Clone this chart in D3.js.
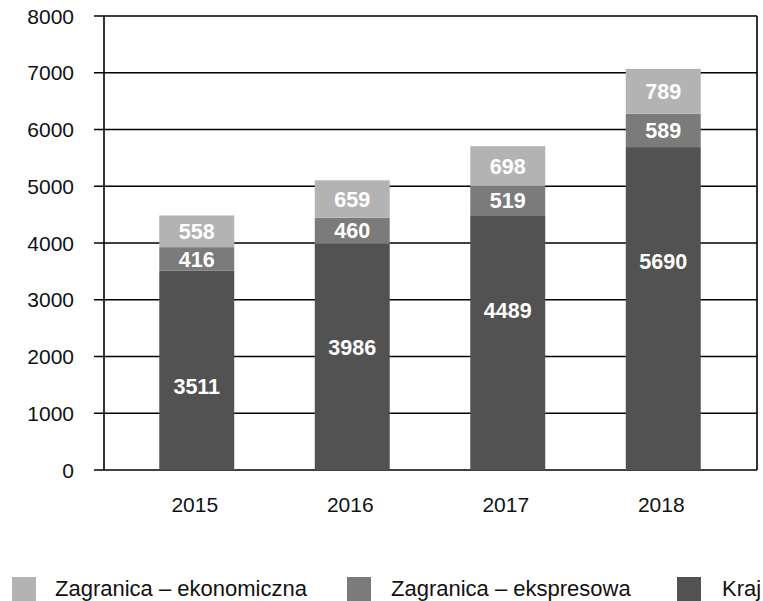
<!DOCTYPE html>
<html>
<head>
<meta charset="utf-8">
<script src="https://cdn.jsdelivr.net/npm/d3@7"></script>
<style>
body { margin: 0; background: #fff; }
svg text { font-family: "Liberation Sans", Arial, sans-serif; }
</style>
</head>
<body>
<script>
(function(){

//data
var years = ["2015", "2016", "2017", "2018"];
var kraj = [3511, 3986, 4489, 5690];
var ekspresowa = [416, 460, 519, 589];
var ekonomiczna = [558, 659, 698, 789];
var yTicks = [0, 1000, 2000, 3000, 4000, 5000, 6000, 7000, 8000];
//the Kraj labels are not centred in the original, value where each one sits
var krajLabelAt = [1477, 2164, 2814, 3683];

var seriesNames = ["Kraj", "Zagranica – ekspresowa", "Zagranica – ekonomiczna"];
var seriesColors = ["#525252", "#7b7b7b", "#b3b3b3"];

window.onload = drawChart();

function drawChart(){
    var width = 763,
        height = 601;

    var svg = d3.select("body")
        .append("svg")
        .attr("width", width)
        .attr("height", height);

    var left = 104, right = 757, top = 16, bottom = 470;

    var y = d3.scaleLinear()
        .domain([0, 8000])
        .range([bottom, top]);

    var x = d3.scaleBand()
        .domain(years)
        .range([119, 741])
        .paddingInner(0.518)
        .paddingOuter(0.259);

    //gridlines
    svg.selectAll(".grid")
        .data(yTicks)
        .enter()
        .append("line")
        .attr("class", "grid")
        .attr("x1", left - 10)
        .attr("x2", right)
        .attr("y1", function(d){ return y(d); })
        .attr("y2", function(d){ return y(d); })
        .attr("stroke", "#000")
        .attr("stroke-width", 1.6);

    //frame sides
    svg.append("line")
        .attr("x1", left).attr("x2", left)
        .attr("y1", top).attr("y2", bottom)
        .attr("stroke", "#000").attr("stroke-width", 1.6);
    svg.append("line")
        .attr("x1", right).attr("x2", right)
        .attr("y1", top).attr("y2", bottom)
        .attr("stroke", "#000").attr("stroke-width", 1.6);

    //y tick labels
    svg.selectAll(".ylab")
        .data(yTicks)
        .enter()
        .append("text")
        .attr("class", "ylab")
        .attr("x", 74)
        .attr("y", function(d){ return y(d); })
        .attr("dy", "0.36em")
        .attr("text-anchor", "end")
        .attr("font-size", 21)
        .attr("fill", "#111")
        .text(function(d){ return d; });

    //stack the series
    var rows = years.map(function(yr, i){
        return { year: yr, idx: i, s0: kraj[i], s1: ekspresowa[i], s2: ekonomiczna[i] };
    });
    var stack = d3.stack().keys(["s0", "s1", "s2"]);
    var layers = stack(rows);

    var groups = svg.selectAll(".layer")
        .data(layers)
        .enter()
        .append("g")
        .attr("class", "layer")
        .attr("fill", function(d, i){ return seriesColors[i]; });

    groups.selectAll("rect")
        .data(function(d){ return d; })
        .enter()
        .append("rect")
        .attr("x", function(d){ return x(d.data.year); })
        .attr("width", x.bandwidth())
        .attr("y", function(d){ return y(d[1]); })
        .attr("height", function(d){ return y(d[0]) - y(d[1]); });

    //value labels
    groups.selectAll(".val")
        .data(function(d){ return d; })
        .enter()
        .append("text")
        .attr("class", "val")
        .attr("x", function(d){ return x(d.data.year) + x.bandwidth() / 2; })
        .attr("y", function(d){
            if (d[0] === 0) return y(krajLabelAt[d.data.idx]);
            return (y(d[0]) + y(d[1])) / 2;
        })
        .attr("dy", "0.36em")
        .attr("text-anchor", "middle")
        .attr("font-size", 21.5)
        .attr("font-weight", "bold")
        .attr("fill", "#fff")
        .text(function(d){ return d[1] - d[0]; });

    //x labels
    svg.selectAll(".xlab")
        .data(years)
        .enter()
        .append("text")
        .attr("class", "xlab")
        .attr("x", function(d){ return x(d) + x.bandwidth() / 2 - 2; })
        .attr("y", 512)
        .attr("text-anchor", "middle")
        .attr("font-size", 21)
        .attr("fill", "#111")
        .text(function(d){ return d; });

    //legend
    var legendItems = [
        { name: seriesNames[2], color: seriesColors[2], sx: 12, tx: 55 },
        { name: seriesNames[1], color: seriesColors[1], sx: 347, tx: 391 },
        { name: seriesNames[0], color: seriesColors[0], sx: 677, tx: 722 }
    ];
    var legend = svg.selectAll(".legend")
        .data(legendItems)
        .enter()
        .append("g")
        .attr("class", "legend");
    legend.append("rect")
        .attr("x", function(d){ return d.sx; })
        .attr("y", 577)
        .attr("width", 24)
        .attr("height", 24)
        .attr("fill", function(d){ return d.color; });
    legend.append("text")
        .attr("x", function(d){ return d.tx; })
        .attr("y", 596)
        .attr("font-size", 22)
        .attr("fill", "#111")
        .text(function(d){ return d.name; });
};

})();
</script>
</body>
</html>
